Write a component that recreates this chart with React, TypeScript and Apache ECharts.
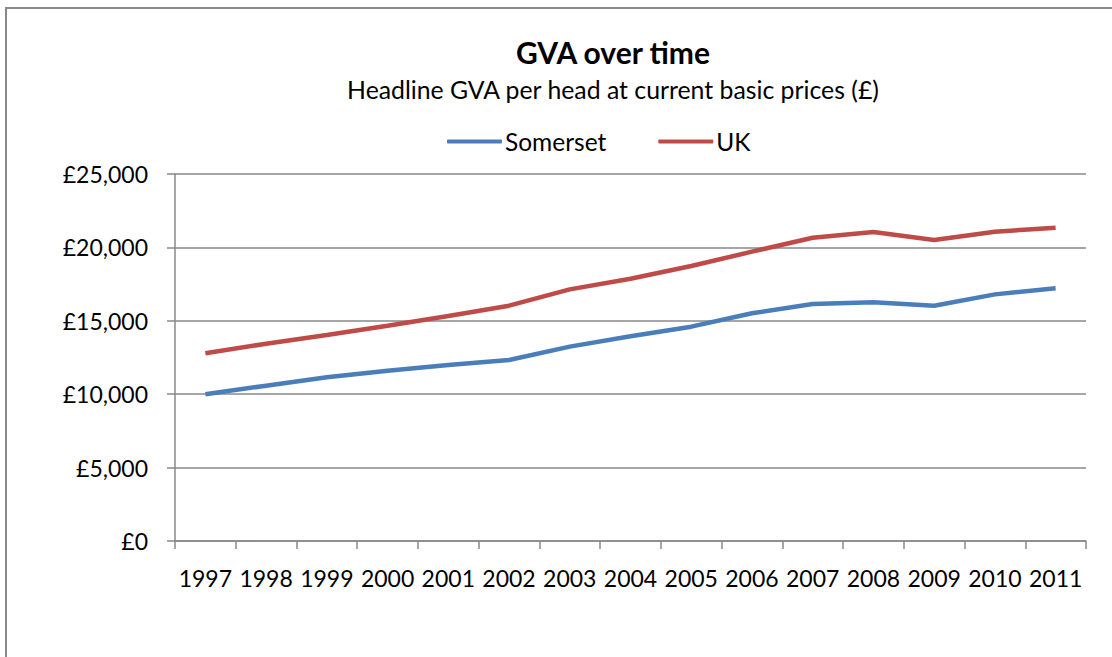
import React, { useEffect, useRef } from "react";
import * as echarts from "echarts";

const years = ["1997", "1998", "1999", "2000", "2001", "2002", "2003", "2004", "2005", "2006", "2007", "2008", "2009", "2010", "2011"];
const somerset = [10000, 10580, 11150, 11600, 11990, 12330, 13240, 13950, 14600, 15510, 16145, 16260, 16030, 16800, 17210];
const uk = [12790, 13440, 14030, 14660, 15330, 16030, 17140, 17860, 18730, 19710, 20660, 21050, 20500, 21070, 21340];

const FONT = "Lato";

export default function App() {
  const ref = useRef<HTMLDivElement>(null);
  useEffect(() => {
    const chart = echarts.init(ref.current!, null, { renderer: "svg" });
    chart.setOption({
      animation: false,
      backgroundColor: "#fff",
      textStyle: { fontFamily: FONT },
      title: [
        { text: "GVA over time", left: 608, textAlign: "center", top: 32, textStyle: { fontFamily: FONT, fontSize: 30, fontWeight: "bold", color: "#000" } },
        { text: "Headline GVA per head at current basic prices (£)", left: 608, textAlign: "center", top: 72, textStyle: { fontFamily: FONT, fontSize: 24.8, fontWeight: "normal", color: "#000" } },
      ],
      legend: {
        top: 124,
        left: 442,
        itemWidth: 55,
        itemHeight: 4,
        itemGap: 52,
        icon: "roundRect",
        textStyle: { fontFamily: FONT, fontSize: 24.5, color: "#000", padding: [0, 0, 0, -2] },
        data: ["Somerset", "UK"],
      },
      graphic: [
        { type: "rect", shape: { x: 6, y: 8, width: 1200, height: 800 }, style: { fill: "none", stroke: "#888", lineWidth: 2 }, silent: true, z: -1 },
      ],
      grid: { left: 175, right: 26, top: 174, bottom: 116 },
      xAxis: {
        type: "category",
        data: years,
        boundaryGap: true,
        axisLine: { lineStyle: { color: "#888", width: 1.5 } },
        axisTick: { show: true, length: 8, lineStyle: { color: "#888", width: 1.5 }, alignWithLabel: false },
        axisLabel: { color: "#000", fontSize: 23, fontFamily: FONT, margin: 25, interval: 0 },
      },
      yAxis: {
        type: "value",
        min: 0,
        max: 25000,
        interval: 5000,
        axisLine: { show: true, lineStyle: { color: "#888", width: 1.5 } },
        axisTick: { show: true, length: 8, lineStyle: { color: "#888", width: 1.5 } },
        splitLine: { show: true, lineStyle: { color: "#888", width: 1.5 } },
        axisLabel: {
          color: "#000",
          fontSize: 23,
          fontFamily: FONT,
          margin: 27,
          formatter: (v: number) => "£" + v.toLocaleString("en-GB"),
        },
      },
      series: [
        { name: "Somerset", type: "line", data: somerset, symbol: "none", lineStyle: { color: "#4a7ebb", width: 4.5 }, itemStyle: { color: "#4a7ebb" } },
        { name: "UK", type: "line", data: uk, symbol: "none", lineStyle: { color: "#be4b48", width: 4.5 }, itemStyle: { color: "#be4b48" } },
      ],
    });
    return () => chart.dispose();
  }, []);
  return <div ref={ref} style={{ position: "fixed", left: 0, top: 0, width: 1112, height: 657 }} />;
}
